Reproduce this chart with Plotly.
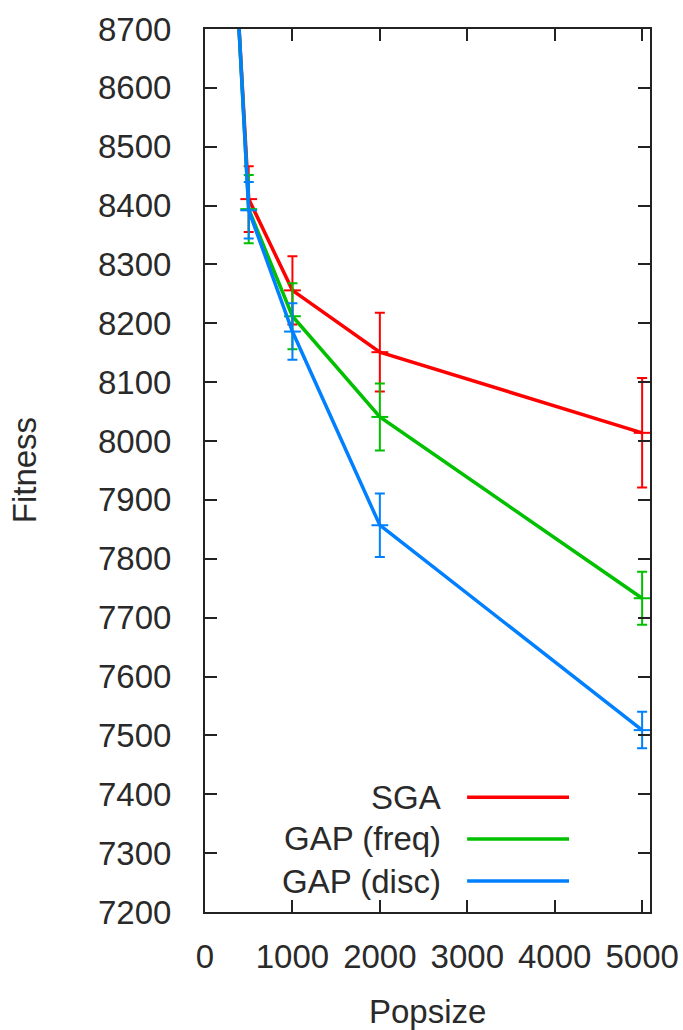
import plotly.graph_objects as go

popsize = [200, 500, 1000, 2000, 5000]
series_names = ["SGA", "GAP (freq)", "GAP (disc)"]
sga = [9200, 8411, 8256, 8151, 8014]
sga_err = [60, 56, 58, 67, 93]
gap_freq = [9220, 8394, 8212, 8041, 7733]
gap_freq_err = [60, 58, 56, 57, 45]
gap_disc = [9230, 8392, 8186, 7857, 7509]
gap_disc_err = [60, 48, 48, 54, 31]
colors = ["#ff0000", "#00c000", "#0080ff"]
x_ticks = [0, 1000, 2000, 3000, 4000, 5000]
y_ticks = list(range(7200, 8701, 100))

FONT = "Liberation Sans, Arial, sans-serif"
TXT = "#2a2a2a"

fig = go.Figure()
for name, ys, errs, col in zip(series_names, [sga, gap_freq, gap_disc],
                               [sga_err, gap_freq_err, gap_disc_err], colors):
    fig.add_trace(go.Scatter(
        x=popsize, y=ys, name=name, mode="lines+markers",
        line=dict(color=col, width=3.5),
        marker=dict(symbol="line-ew", size=12, color=col,
                    line=dict(color=col, width=2)),
        error_y=dict(type="data", array=errs, visible=True,
                     color=col, thickness=2, width=5),
        showlegend=False,
    ))

axis_common = dict(
    showline=True, linecolor="#222222", linewidth=2, mirror="ticks",
    ticks="inside", ticklen=12, tickwidth=2, tickcolor="#222222",
    showgrid=False, zeroline=False, automargin=False,
    tickfont=dict(family=FONT, size=33, color=TXT),
)
fig.update_xaxes(range=[0, 5090], tickvals=x_ticks,
                 ticktext=[str(v) for v in x_ticks],
                 ticklabelstandoff=14, **axis_common)
fig.update_yaxes(range=[7200, 8700], tickvals=y_ticks,
                 ticktext=[str(v) for v in y_ticks],
                 ticklabelstandoff=25, **axis_common)

annotations = [
    dict(text="Popsize", xref="paper", yref="paper", x=0.5, y=-0.113,
         showarrow=False, xanchor="center", yanchor="middle",
         font=dict(family=FONT, size=33, color=TXT)),
    dict(text="Fitness", xref="paper", yref="paper", x=-0.405, y=0.5,
         showarrow=False, xanchor="center", yanchor="middle", textangle=-90,
         font=dict(family=FONT, size=33, color=TXT)),
]
shapes = []
legend_y = [0.130, 0.0827, 0.0351]
for name, col, ly in zip(series_names, colors, legend_y):
    annotations.append(dict(text=name, xref="paper", yref="paper", x=0.535, y=ly,
                            showarrow=False, xanchor="right", yanchor="middle",
                            font=dict(family=FONT, size=33, color=TXT)))
    shapes.append(dict(type="line", xref="paper", yref="paper",
                       x0=0.589, x1=0.818, y0=ly, y1=ly,
                       line=dict(color=col, width=3.5)))

fig.update_layout(
    width=683, height=1030,
    margin=dict(l=205, r=33, t=29, b=118),
    paper_bgcolor="white", plot_bgcolor="white",
    annotations=annotations, shapes=shapes,
    showlegend=False,
)
fig.write_html("out.html", config={"displayModeBar": False},
               post_script="document.body.style.margin='0';document.body.style.padding='0';")
